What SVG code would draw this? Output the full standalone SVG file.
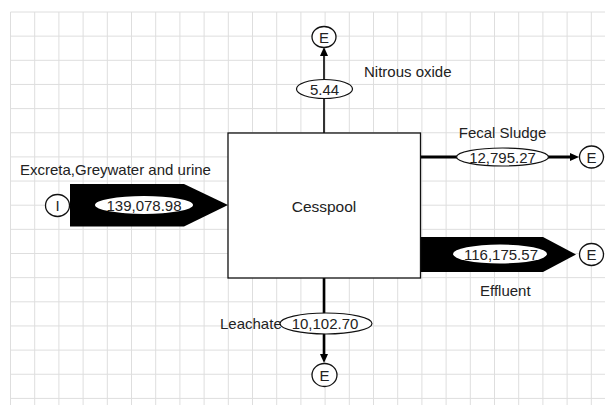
<svg xmlns="http://www.w3.org/2000/svg" width="605" height="405" viewBox="0 0 605 405">
<style>
.grid{stroke:#dedede;stroke-width:1;fill:none}
.t{font-family:"Liberation Sans",Arial,sans-serif;font-size:15px;fill:#222}
.c{text-anchor:middle}
.node{fill:#fff;stroke:#111;stroke-width:1.3}
.val{fill:#fff;stroke:#111;stroke-width:1.2}
.ln{stroke:#000;fill:none}
</style>
<defs>
<marker id="ah" markerUnits="userSpaceOnUse" markerWidth="9" markerHeight="8" refX="0" refY="4" orient="auto">
<path d="M0,0 L9,4 L0,8 z" fill="#000"/>
</marker>
</defs>
<rect width="605" height="405" fill="#fff"/>
<path class="grid" d="M10.5 12V405M34.7 12V405M58.9 12V405M83.1 12V405M107.3 12V405M131.5 12V405M155.7 12V405M179.9 12V405M204.1 12V405M228.3 12V405M252.5 12V405M276.7 12V405M300.9 12V405M325.1 12V405M349.3 12V405M373.5 12V405M397.7 12V405M421.9 12V405M446.1 12V405M470.3 12V405M494.5 12V405M518.7 12V405M542.9 12V405M567.1 12V405M591.3 12V405M10.5 12H605M10.5 36.15H605M10.5 60.3H605M10.5 84.45H605M10.5 108.6H605M10.5 132.75H605M10.5 156.9H605M10.5 181.05H605M10.5 205.2H605M10.5 229.35H605M10.5 253.5H605M10.5 277.65H605M10.5 301.8H605M10.5 325.95H605M10.5 350.1H605M10.5 374.25H605M10.5 398.4H605"/>
<g id="connectors">
<line class="ln" x1="324" y1="133" x2="324" y2="56" stroke-width="1.6" marker-end="url(#ah)"/>
<line class="ln" x1="420" y1="157" x2="570" y2="157" stroke-width="3" marker-end="url(#ah)"/>
<line class="ln" x1="324" y1="278" x2="324" y2="354" stroke-width="2.6" marker-end="url(#ah)"/>
<polygon points="70,184 184,184 228,205 184,226.5 70,226.5" fill="#000"/>
<polygon points="420,237 543,237 576,254.5 543,272 420,272" fill="#000"/>
</g>
<g id="cesspool">
<rect class="node" x="228" y="133" width="192.5" height="145"/>
<text class="t c" x="324" y="211.5" style="font-size:15.5px">Cesspool</text>
</g>
<g id="input-I">
<ellipse class="node" cx="57.5" cy="205.5" rx="12" ry="11"/>
<text class="t c" x="57.5" y="211">I</text>
</g>
<g id="out-nitrous">
<ellipse class="node" cx="324" cy="37" rx="12" ry="10.5"/>
<text class="t c" x="324" y="42.5">E</text>
</g>
<g id="out-fecal">
<ellipse class="node" cx="591.5" cy="157" rx="12" ry="11"/>
<text class="t c" x="591.5" y="162.5">E</text>
</g>
<g id="out-effluent">
<ellipse class="node" cx="591.5" cy="254.5" rx="12" ry="11"/>
<text class="t c" x="591.5" y="260">E</text>
</g>
<g id="out-leachate">
<ellipse class="node" cx="324.5" cy="375" rx="12.5" ry="11.5"/>
<text class="t c" x="324.5" y="380.5">E</text>
</g>
<g id="flow-input">
<text class="t" x="20" y="175">Excreta,Greywater and urine</text>
<ellipse cx="144" cy="205" rx="49" ry="9" fill="#fff"/>
<text class="t c" x="144" y="210.5">139,078.98</text>
</g>
<g id="flow-nitrous">
<ellipse class="val" cx="324.5" cy="89" rx="28" ry="9.5"/>
<text class="t c" x="324.5" y="94.5">5.44</text>
<text class="t" x="364" y="77">Nitrous oxide</text>
</g>
<g id="flow-fecal">
<text class="t c" x="502.5" y="138">Fecal Sludge</text>
<ellipse class="val" cx="502.5" cy="157" rx="46" ry="9"/>
<text class="t c" x="502.5" y="162.5">12,795.27</text>
</g>
<g id="flow-effluent">
<ellipse cx="500" cy="254" rx="47" ry="9.5" fill="#fff"/>
<text class="t c" x="501" y="259.5">116,175.57</text>
<text class="t" x="480" y="296">Effluent</text>
</g>
<g id="flow-leachate">
<text class="t" x="220" y="329">Leachate</text>
<ellipse class="val" cx="326" cy="323.5" rx="46" ry="10.5" fill="none"/>
<text class="t c" x="325" y="329">10,102.70</text>
</g>
</svg>
